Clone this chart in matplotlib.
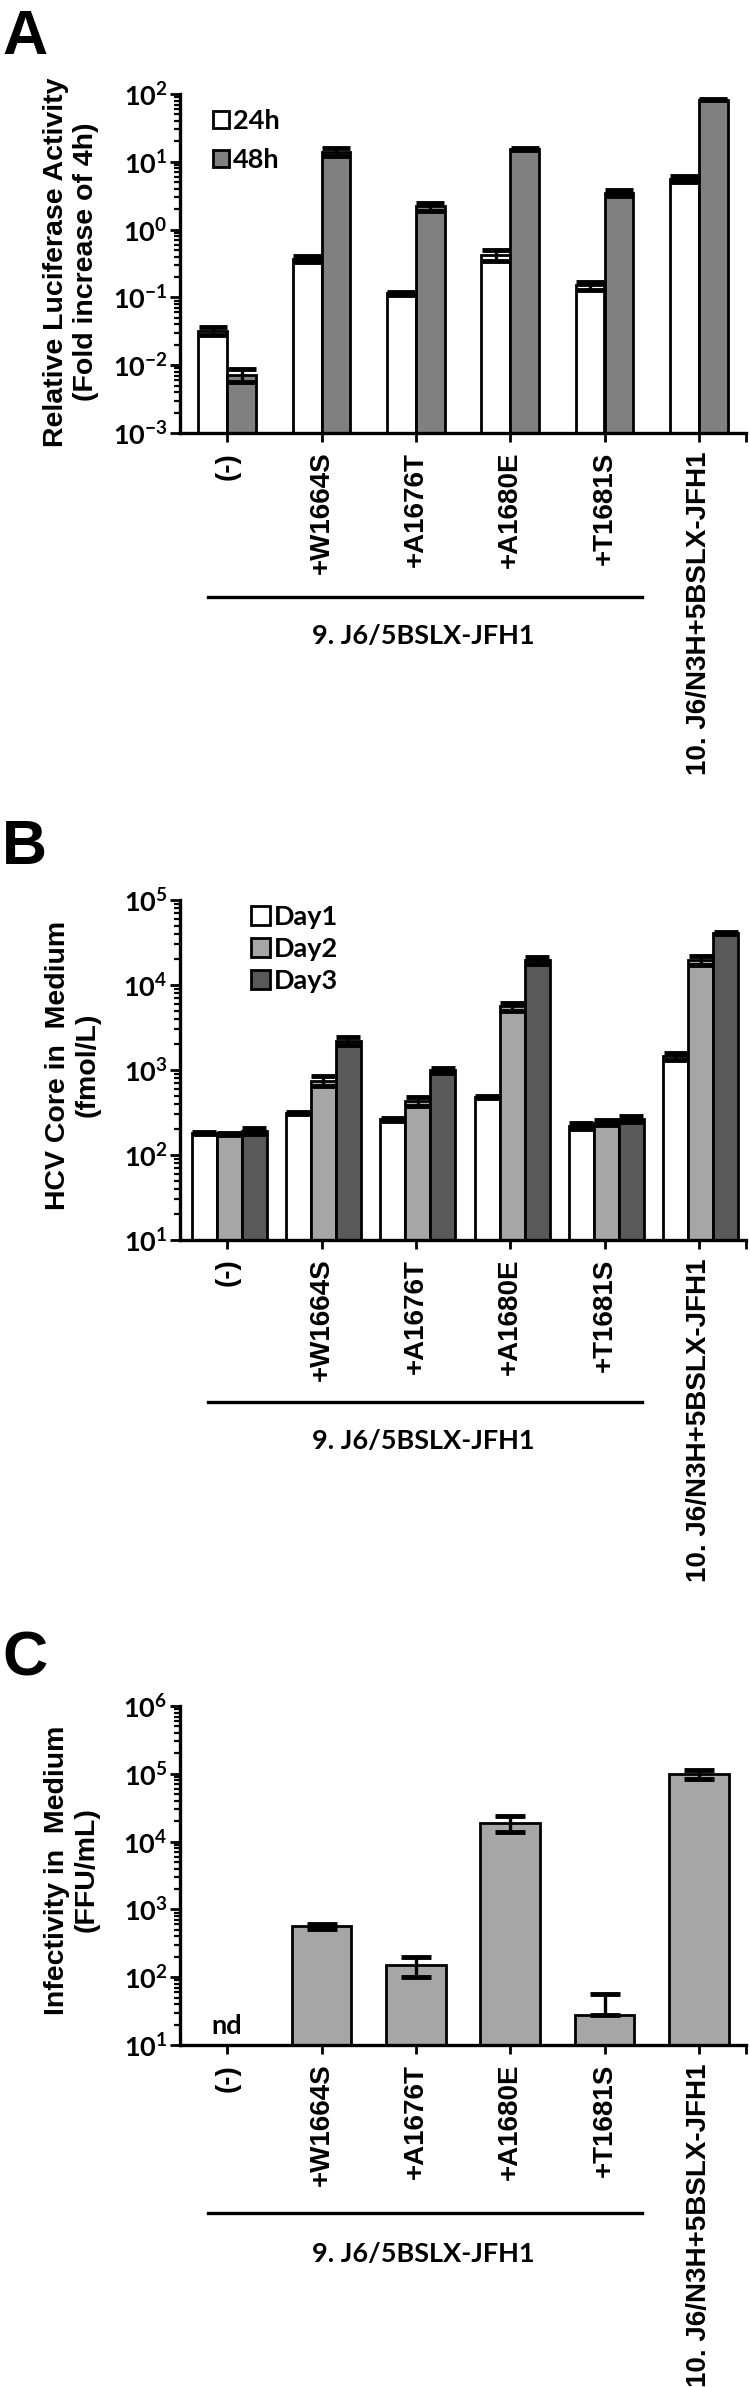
import matplotlib
matplotlib.use('Agg')
import matplotlib.pyplot as plt
import numpy as np
from matplotlib.ticker import FixedLocator, NullFormatter
from matplotlib.transforms import blended_transform_factory

# ---------------- data ----------------
categories = ['(-)', '+W1664S', '+A1676T', '+A1680E', '+T1681S', '10. J6/N3H+5BSLX-JFH1']
group_label = '9. J6/5BSLX-JFH1'

A_series = ['24h', '48h']
A_24h = [0.032, 0.37, 0.115, 0.42, 0.15, 5.6]
A_24h_err = [0.004, 0.04, 0.006, 0.08, 0.02, 0.6]
A_48h = [0.0072, 14.0, 2.2, 15.5, 3.5, 82.0]
A_48h_err = [0.0015, 2.0, 0.3, 0.6, 0.4, 1.5]

B_series = ['Day1', 'Day2', 'Day3']
B_day1 = [180, 310, 262, 480, 220, 1450]
B_day1_err = [4, 10, 8, 10, 15, 150]
B_day2 = [178, 740, 430, 5600, 240, 19500]
B_day2_err = [5, 100, 50, 600, 15, 2500]
B_day3 = [192, 2200, 990, 19500, 265, 41000]
B_day3_err = [15, 250, 60, 2000, 20, 800]

C_vals = [np.nan, 560, 150, 19000, 28, 100000]
C_err_lo = [0, 40, 50, 5000, 0, 15000]
C_err_hi = [0, 40, 50, 5000, 28, 15000]
C_nd_label = 'nd'

A_ylabel = 'Relative Luciferase Activity\n(Fold increase of 4h)'
B_ylabel = 'HCV Core in  Medium\n(fmol/L)'
C_ylabel = 'Infectivity in  Medium\n(FFU/mL)'

# ---------------- style ----------------
W, H = 750, 2387
fig = plt.figure(figsize=(W / 100, H / 100), dpi=100)

TICKFONT = dict(family='Lato', weight='bold', size=19.5)
CATFONT = dict(family='Liberation Sans', weight='bold', size=20)
LABFONT = dict(family='Liberation Sans', weight='bold', size=20.5)


def add_ax(top, bottom, L=180, R=746):
    return fig.add_axes([L / W, 1 - bottom / H, (R - L) / W, (bottom - top) / H])


def style(ax, lo, hi, line_px, label_px):
    ax.set_yscale('log')
    ax.set_ylim(10.0 ** lo, 10.0 ** hi)
    ax.set_xlim(-0.5, 5.5)
    for s in ['top', 'right']:
        ax.spines[s].set_visible(False)
    for s in ['left', 'bottom']:
        ax.spines[s].set_linewidth(2.4)
    exps = list(range(lo, hi + 1))
    ax.yaxis.set_major_locator(FixedLocator([10.0 ** e for e in exps]))
    ax.set_yticklabels([r'$\mathregular{10^{%d}}$' % e for e in exps], fontdict=TICKFONT)
    minors = [m * 10.0 ** e for e in exps[:-1] for m in range(2, 10)]
    ax.yaxis.set_minor_locator(FixedLocator(minors))
    ax.yaxis.set_minor_formatter(NullFormatter())
    ax.tick_params(axis='y', which='major', direction='out', length=7, width=2, pad=2)
    ax.tick_params(axis='y', which='minor', direction='out', length=4.5, width=1.6)
    ax.set_xticks(range(len(categories)))
    ax.set_xticklabels(categories, rotation=90, fontdict=CATFONT)
    ax.xaxis.set_minor_locator(FixedLocator([5.5]))
    ax.tick_params(axis='x', which='both', direction='out', length=6.5, width=2, pad=7)
    tr = blended_transform_factory(ax.transData, fig.transFigure)
    ax.plot([-0.2, 4.4], [1 - line_px / H] * 2, color='black', lw=2.4,
            transform=tr, clip_on=False)
    ax.text(2.08, 1 - label_px / H, group_label, transform=tr, ha='center',
            va='center', fontdict=TICKFONT)


def ylab(text, xpx, ypx):
    fig.text(xpx / W, 1 - ypx / H, text, rotation=90, ha='center', va='center',
             multialignment='center', fontdict=LABFONT, linespacing=1.2)


def letter(t, ypx):
    fig.text(2 / W, 1 - ypx / H, t, ha='left', va='top', family='Liberation Sans',
             weight='bold', size=45)


x = np.arange(len(categories))
ekw = dict(ecolor='black', elinewidth=2.4, capthick=3.5)

# ---------------- Panel A ----------------
axA = add_ax(94, 433)
wA = 0.304
bA1 = axA.bar(x - wA / 2, A_24h, wA, yerr=A_24h_err, color='white', edgecolor='black',
              linewidth=2, capsize=10, error_kw=ekw, zorder=2)
bA2 = axA.bar(x + wA / 2, A_48h, wA, yerr=A_48h_err, color='#808080', edgecolor='black',
              linewidth=2, capsize=10, error_kw=ekw, zorder=2)
style(axA, -3, 2, 597, 636)
axA.legend([bA1, bA2], A_series, loc='upper left', bbox_to_anchor=(0.058, 0.955),
           frameon=False, prop=dict(family='Lato', weight='bold', size=19.5),
           handlelength=0.6, handleheight=0.6, handletextpad=0.15, labelspacing=0.55,
           borderpad=0, borderaxespad=0)
ylab(A_ylabel, 71, 262)
letter('A', 8)

# ---------------- Panel B ----------------
axB = add_ax(900, 1240)
wB = 0.265
cols = ['white', '#a6a6a6', '#595959']
vals = [B_day1, B_day2, B_day3]
errs = [B_day1_err, B_day2_err, B_day3_err]
hB = []
for i in range(3):
    b = axB.bar(x + (i - 1) * wB + 0.02, vals[i], wB, yerr=errs[i], color=cols[i],
                edgecolor='black', linewidth=2, capsize=8.5, error_kw=ekw, zorder=2)
    hB.append(b)
style(axB, 1, 5, 1402, 1441)
axB.legend(hB, B_series, loc='upper left', bbox_to_anchor=(0.125, 0.985),
           frameon=False, prop=dict(family='Lato', weight='bold', size=19.5),
           handlelength=0.7, handleheight=0.7, handletextpad=0.15, labelspacing=0.3,
           borderpad=0, borderaxespad=0)
ylab(B_ylabel, 73, 1065)
letter('B', 818)

# ---------------- Panel C ----------------
axC = add_ax(1706, 2045)
wC = 0.635
axC.bar(x, C_vals, wC, yerr=[C_err_lo, C_err_hi], color='#a6a6a6', edgecolor='black',
        linewidth=2, capsize=10.5, error_kw=ekw, zorder=2)
style(axC, 1, 6, 2213, 2254)
axC.text(0, 19, C_nd_label, ha='center', va='center', fontdict=TICKFONT)
ylab(C_ylabel, 72, 1870)
letter('C', 1630)

fig.savefig('out.png', dpi=100)
